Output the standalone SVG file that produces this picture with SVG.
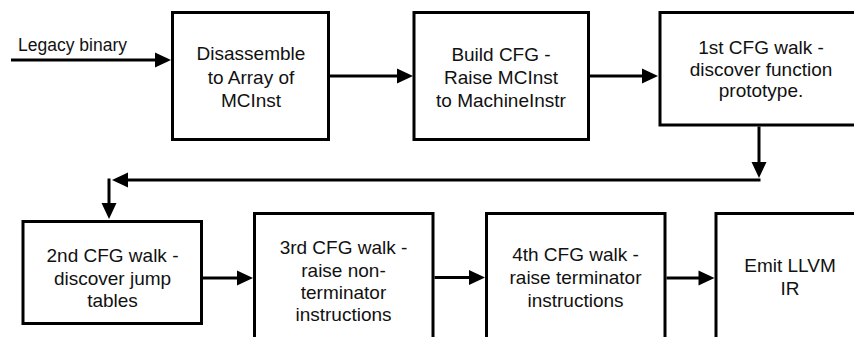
<svg xmlns="http://www.w3.org/2000/svg" width="854" height="337" viewBox="0 0 854 337">
  <style>
    .box { fill: #ffffff; stroke: #000000; stroke-width: 3; }
    .wire { fill: none; stroke: #000000; stroke-width: 3; marker-end: url(#head); }
    .label { font-family: "Liberation Sans", Arial, Helvetica, sans-serif; font-size: 19px; fill: #111111; text-anchor: middle; }
    .input { font-family: "Liberation Sans", Arial, Helvetica, sans-serif; font-size: 17.5px; fill: #111111; }
  </style>
  <defs>
    <marker id="head" markerUnits="userSpaceOnUse" markerWidth="16" markerHeight="15" refX="2" refY="7.5" orient="auto" overflow="visible">
      <path d="M0,0 L16,7.5 L0,15 Z" fill="#000000"/>
    </marker>
  </defs>
  <rect width="854" height="337" fill="#ffffff"/>

  <!-- pipeline stages, top row -->
  <g id="disassemble">
    <rect class="box" x="172.5" y="12.5" width="156" height="127"/>
    <text class="label" x="251" y="60">Disassemble</text>
    <text class="label" x="251" y="83.5">to Array of</text>
    <text class="label" x="251" y="107">MCInst</text>
  </g>
  <g id="build-cfg">
    <rect class="box" x="414" y="12.5" width="174.5" height="127"/>
    <text class="label" x="501" y="61">Build CFG -</text>
    <text class="label" x="501" y="84">Raise MCInst</text>
    <text class="label" x="501" y="106.5">to MachineInstr</text>
  </g>
  <g id="walk-1">
    <rect class="box" x="660" y="12.5" width="205" height="112.5"/>
    <text class="label" x="761" y="54">1st CFG walk -</text>
    <text class="label" x="761" y="76">discover function</text>
    <text class="label" x="761" y="97">prototype.</text>
  </g>

  <!-- pipeline stages, bottom row -->
  <g id="walk-2">
    <rect class="box" x="23" y="221.5" width="178.5" height="102"/>
    <text class="label" x="112.5" y="262">2nd CFG walk -</text>
    <text class="label" x="112.5" y="284.5">discover jump</text>
    <text class="label" x="112.5" y="307">tables</text>
  </g>
  <g id="walk-3">
    <rect class="box" x="254.5" y="213.5" width="178.5" height="140"/>
    <text class="label" x="343.5" y="254">3rd CFG walk -</text>
    <text class="label" x="343.5" y="276.5">raise non-</text>
    <text class="label" x="343.5" y="298.5">terminator</text>
    <text class="label" x="343.5" y="320.5">instructions</text>
  </g>
  <g id="walk-4">
    <rect class="box" x="486.5" y="213.5" width="178.5" height="140"/>
    <text class="label" x="575.5" y="260.5">4th CFG walk -</text>
    <text class="label" x="575.5" y="283.5">raise terminator</text>
    <text class="label" x="575.5" y="306.5">instructions</text>
  </g>
  <g id="emit-ir">
    <rect class="box" x="716" y="213.5" width="150" height="140"/>
    <text class="label" x="790" y="272">Emit LLVM</text>
    <text class="label" x="790" y="294.5">IR</text>
  </g>

  <!-- connectors -->
  <g id="connectors">
    <text class="input" x="18" y="50.5">Legacy binary</text>
    <path class="wire" d="M11,60 L157,60"/>
    <path class="wire" d="M330,76 L399,76"/>
    <path class="wire" d="M590,76 L644,76"/>
    <path class="wire" d="M759,126.5 L759,164"/>
    <path class="wire" d="M760.5,180 L126,180"/>
    <path class="wire" d="M109,178.5 L109,205"/>
    <path class="wire" d="M203,278 L239,278"/>
    <path class="wire" d="M434.5,277.5 L471,277.5"/>
    <path class="wire" d="M666.5,278 L700.5,278"/>
  </g>
</svg>
